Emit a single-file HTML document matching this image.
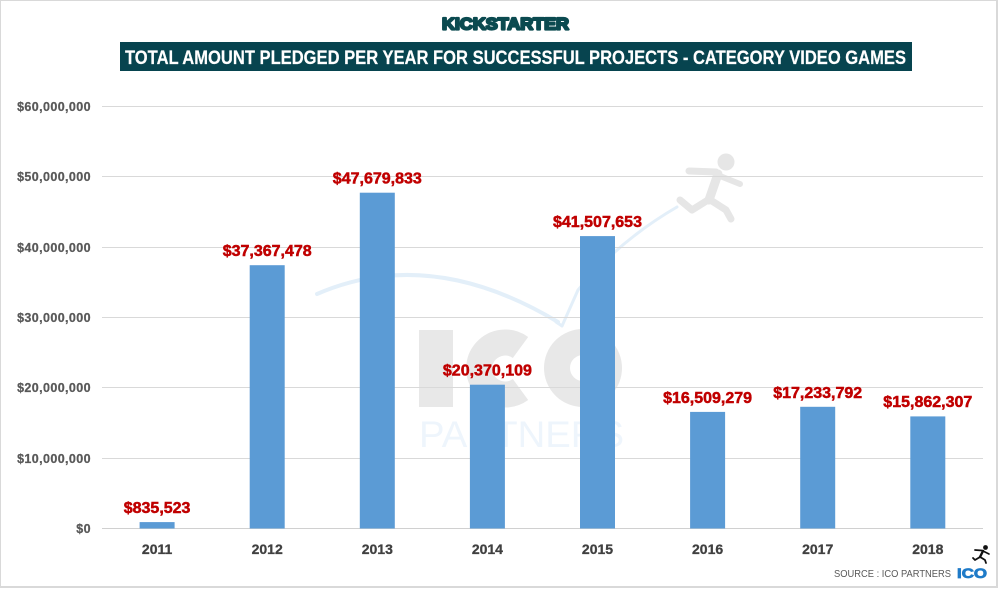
<!DOCTYPE html>
<html><head><meta charset="utf-8"><style>
html,body{margin:0;padding:0;background:#fff;}
svg{display:block;}
text{font-family:"Liberation Sans",Arial,sans-serif;}
</style></head><body>
<svg width="1000" height="589" viewBox="0 0 1000 589" xmlns="http://www.w3.org/2000/svg">
<rect x="0" y="0" width="1000" height="589" fill="#fff"/>
<rect x="0" y="0" width="997" height="587" fill="none" stroke="#d9d9d9" stroke-width="2"/>

<!-- Kickstarter logo -->
<text x="442" y="29.5" font-size="17" font-weight="bold" fill="#0b4a50" stroke="#0b4a50" stroke-width="2.2" stroke-linejoin="round" textLength="127" lengthAdjust="spacingAndGlyphs">KICKSTARTER</text>

<!-- Title box -->
<rect x="120" y="42" width="792" height="29" fill="#07444f"/>
<text x="125" y="64" font-size="19" font-weight="bold" fill="#fff" stroke="#fff" stroke-width="0.2" textLength="781" lengthAdjust="spacingAndGlyphs">TOTAL AMOUNT PLEDGED PER YEAR FOR SUCCESSFUL PROJECTS - CATEGORY VIDEO GAMES</text>

<!-- Watermark -->
<g>
  <rect x="419" y="330" width="34" height="77" fill="#e8e8e8"/>
  <path d="M 520.5 347.5 A 26 26 0 1 0 520.5 389.5" fill="none" stroke="#e8e8e8" stroke-width="26"/>
  <circle cx="583" cy="368" r="26" fill="none" stroke="#e8e8e8" stroke-width="26"/>
  <text x="419" y="447" font-size="37" fill="#eef5fc" textLength="205" lengthAdjust="spacingAndGlyphs">PARTNERS</text>
  <path d="M 317 294 Q 430 245 558 322" fill="none" stroke="#e3eff9" stroke-width="4" stroke-linecap="round"/>
  <path d="M 556 322 L 562 326 L 578 290 Q 620 240 677 207" fill="none" stroke="#e3eff9" stroke-width="3" stroke-linecap="round" stroke-linejoin="round"/>
  <g stroke="#e6e6e6" stroke-linecap="round" stroke-linejoin="round" fill="none">
    <circle cx="726" cy="162" r="8.5" fill="#e6e6e6" stroke="none"/>
    <path d="M 689 171 L 716 172" stroke-width="7"/>
    <path d="M 718 174 L 709 200" stroke-width="9"/>
    <path d="M 720 176 L 740 184" stroke-width="6"/>
    <path d="M 708 200 L 692 210 L 680 200" stroke-width="7"/>
    <path d="M 712 201 L 726 210 L 731 219" stroke-width="7"/>
  </g>
</g>

<!-- Gridlines -->
<g stroke="#d9d9d9" stroke-width="1">
  <line x1="102" y1="106.5" x2="983" y2="106.5"/>
  <line x1="102" y1="176.5" x2="983" y2="176.5"/>
  <line x1="102" y1="247.5" x2="983" y2="247.5"/>
  <line x1="102" y1="317.5" x2="983" y2="317.5"/>
  <line x1="102" y1="387.5" x2="983" y2="387.5"/>
  <line x1="102" y1="458.5" x2="983" y2="458.5"/>
  <line x1="102" y1="528.5" x2="983" y2="528.5" stroke="#d0d0d0"/>
</g>

<!-- Y labels -->
<g font-size="12.5" font-weight="bold" fill="#595959" stroke="#595959" stroke-width="0.25" text-anchor="end" letter-spacing="0.4">
  <text x="91" y="111">$60,000,000</text>
  <text x="91" y="181">$50,000,000</text>
  <text x="91" y="252">$40,000,000</text>
  <text x="91" y="322">$30,000,000</text>
  <text x="91" y="392">$20,000,000</text>
  <text x="91" y="463">$10,000,000</text>
  <text x="91" y="533">$0</text>
</g>

<!-- Bars -->
<g fill="#5b9bd5">
  <rect x="139.6" y="522.1" width="35" height="6.4"/>
  <rect x="249.7" y="265.2" width="35" height="263.3"/>
  <rect x="359.8" y="192.7" width="35" height="335.8"/>
  <rect x="469.9" y="384.7" width="35" height="143.8"/>
  <rect x="580.0" y="236.1" width="35" height="292.4"/>
  <rect x="690.1" y="411.9" width="35" height="116.6"/>
  <rect x="800.2" y="406.8" width="35" height="121.7"/>
  <rect x="910.3" y="416.4" width="35" height="112.1"/>
</g>

<!-- Value labels -->
<g font-size="16" font-weight="bold" fill="#c00000" stroke="#c00000" stroke-width="0.5" text-anchor="middle">
  <text x="157.1" y="513">$835,523</text>
  <text x="267.2" y="256">$37,367,478</text>
  <text x="377.3" y="183.5">$47,679,833</text>
  <text x="487.4" y="375.5">$20,370,109</text>
  <text x="597.5" y="227">$41,507,653</text>
  <text x="707.6" y="403">$16,509,279</text>
  <text x="817.7" y="398">$17,233,792</text>
  <text x="927.8" y="407">$15,862,307</text>
</g>

<!-- X labels -->
<g font-size="14" font-weight="bold" fill="#404040" stroke="#404040" stroke-width="0.3" text-anchor="middle">
  <text x="157.1" y="554">2011</text>
  <text x="267.2" y="554">2012</text>
  <text x="377.3" y="554">2013</text>
  <text x="487.4" y="554">2014</text>
  <text x="597.5" y="554">2015</text>
  <text x="707.6" y="554">2016</text>
  <text x="817.7" y="554">2017</text>
  <text x="927.8" y="554">2018</text>
</g>

<!-- Source -->
<text x="834" y="577" font-size="10.5" fill="#595959" textLength="117" lengthAdjust="spacingAndGlyphs">SOURCE : ICO PARTNERS</text>
<text x="957" y="578" font-size="14" font-weight="bold" fill="#1f7bc8" stroke="#1f7bc8" stroke-width="0.8" textLength="30" lengthAdjust="spacingAndGlyphs">ICO</text>
<g stroke="#111" stroke-linecap="round" stroke-linejoin="round" fill="none">
  <circle cx="985.5" cy="547.5" r="2.4" fill="#111" stroke="none"/>
  <path d="M 975 550 L 982 550.5" stroke-width="1.8"/>
  <path d="M 983 551 L 980 557" stroke-width="2.4"/>
  <path d="M 984 551.5 L 989 554" stroke-width="1.6"/>
  <path d="M 980 557 L 975 560 L 973 558" stroke-width="1.8"/>
  <path d="M 981 557.5 L 985 560 L 986 563" stroke-width="1.8"/>
</g>
</svg>
</body></html>
